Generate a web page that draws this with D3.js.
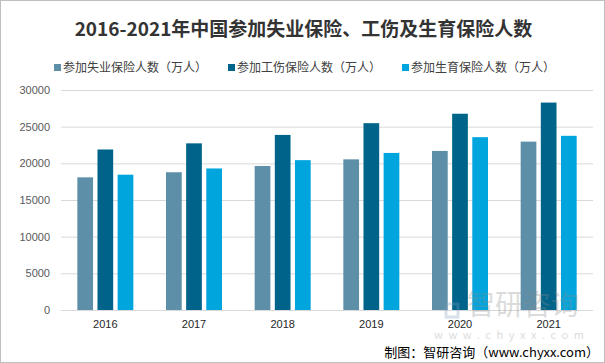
<!DOCTYPE html>
<html>
<head>
<meta charset="utf-8">
<script src="https://cdn.jsdelivr.net/npm/d3@7"></script>
<style>
  body { margin: 0; background: #fff; }
  svg { display: block; font-family: "Noto Sans CJK SC", "Microsoft YaHei", sans-serif; }
</style>
</head>
<body>
<div id="chart"></div>
<script>
// chart data
const years = ["2016", "2017", "2018", "2019", "2020", "2021"];
const seriesNames = ["参加失业保险人数（万人）", "参加工伤保险人数（万人）", "参加生育保险人数（万人）"];
const unemployment = [18089, 18784, 19643, 20543, 21689, 22958];
const workInjury = [21889, 22724, 23874, 25478, 26763, 28287];
const maternity = [18451, 19300, 20434, 21417, 23567, 23752];
const yTicks = [0, 5000, 10000, 15000, 20000, 25000, 30000];

const colors = ["#5d8fa8", "#00648a", "#00a5dd"];
const seriesValues = [unemployment, workInjury, maternity];

const W = 605, H = 363;
const margin = {top: 90, right: 12, bottom: 53, left: 61};
const width = W - margin.left - margin.right;
const height = H - margin.top - margin.bottom;

const svg = d3.select("#chart").append("svg")
  .attr("width", W)
  .attr("height", H);

// outer frame
svg.append("rect")
  .attr("x", 0.5).attr("y", 0.5)
  .attr("width", W - 1).attr("height", H - 1)
  .attr("fill", "#fff")
  .attr("stroke", "#bfbfbf");

svg.append("text")
  .attr("x", W / 2 + 1)
  .attr("y", 36)
  .attr("text-anchor", "middle")
  .style("font-size", "19px")
  .style("font-weight", "bold")
  .style("fill", "#333")
  .text("2016-2021年中国参加失业保险、工伤及生育保险人数");

// legend
const legendX = [54, 228, 402];
const legend = svg.append("g");
seriesNames.forEach((name, i) => {
  legend.append("rect")
    .attr("x", legendX[i]).attr("y", 64)
    .attr("width", 7).attr("height", 7)
    .attr("fill", colors[i]);
  legend.append("text")
    .attr("x", legendX[i] + 9).attr("y", 72)
    .style("font-size", "12px")
    .style("fill", "#404040")
    .text(name);
});

const g = svg.append("g")
  .attr("transform", `translate(${margin.left},${margin.top})`);

const x0 = d3.scaleBand().domain(years).range([0, width]).paddingInner(0).paddingOuter(0);
const x1 = d3.scaleBand().domain(d3.range(3)).range([x0.bandwidth() / 2 - 28, x0.bandwidth() / 2 + 28]).paddingInner(0.22);
const y = d3.scaleLinear().domain([0, 30000]).range([height, 0]);

// gridlines
g.append("g")
  .call(d3.axisLeft(y).tickValues(yTicks).tickSize(-width).tickFormat(d => d))
  .call(a => a.select(".domain").remove())
  .call(a => a.selectAll(".tick line").attr("stroke", "#d9d9d9"))
  .call(a => a.selectAll(".tick text")
    .attr("x", -11)
    .style("font-size", "11px")
    .style("font-family", "Arial, 'Liberation Sans', sans-serif")
    .style("fill", "#595959"));

// bars
years.forEach((yr, j) => {
  seriesValues.forEach((vals, i) => {
    g.append("rect")
      .attr("x", x0(yr) + x1(i))
      .attr("y", y(vals[j]))
      .attr("width", x1.bandwidth())
      .attr("height", height - y(vals[j]))
      .attr("fill", colors[i]);
  });
});

// watermark (behind the year labels)
const wm = svg.append("g").style("opacity", 0.3);
wm.append("rect").attr("x", 446).attr("y", 304).attr("width", 12).attr("height", 13)
  .attr("fill", "none").attr("stroke", "#7f9fbf").attr("stroke-width", 3);
wm.append("text").attr("x", 467).attr("y", 315)
  .style("font-size", "28px").style("fill", "#8c8c8c")
  .text("智研咨询");
wm.append("text").attr("x", 434).attr("y", 339)
  .attr("textLength", 150).attr("lengthAdjust", "spacing")
  .style("font-size", "11px").style("fill", "#8c8c8c")
  .text("www.chyxx.com");

// x axis labels
g.append("g")
  .attr("transform", `translate(0,${height})`)
  .call(d3.axisBottom(x0).tickSize(0).tickPadding(10))
  .call(a => a.select(".domain").remove())
  .call(a => a.selectAll(".tick text")
    .style("font-size", "11px")
    .style("font-family", "Arial, 'Liberation Sans', sans-serif")
    .style("fill", "#262626"));

// source
svg.append("text")
  .attr("x", 599)
  .attr("y", 357)
  .attr("text-anchor", "end")
  .style("font-size", "13px")
  .style("fill", "#000")
  .text("制图：智研咨询（www.chyxx.com）");
</script>
</body>
</html>
